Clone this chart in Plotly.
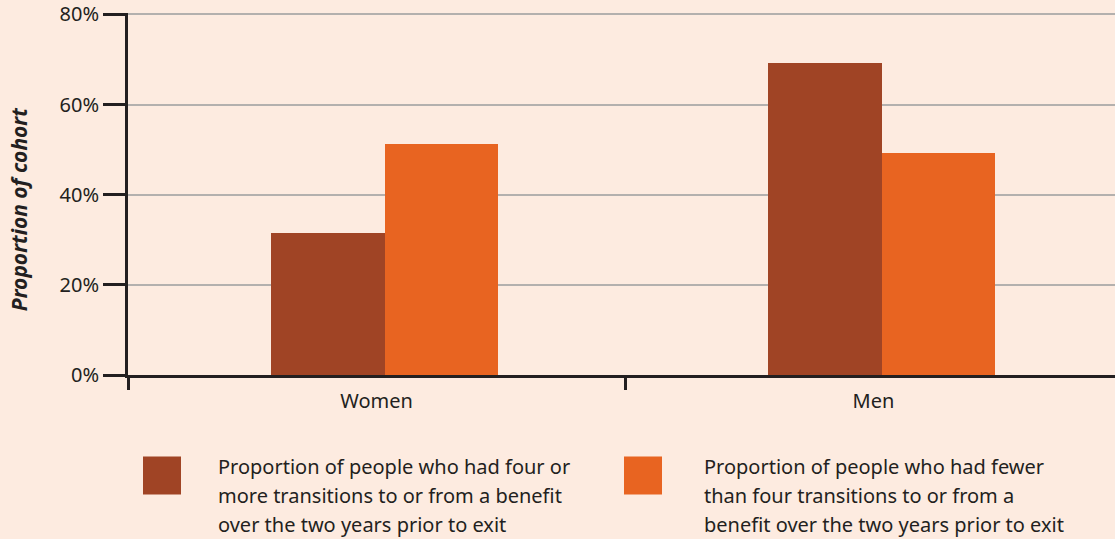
import plotly.graph_objects as go

# data
groups = ["Women", "Men"]
four_or_more = [31.4, 69.3]
fewer_than_four = [51.3, 49.3]
series_names = [
    ["Proportion of people who had four or",
     "more transitions to or from a benefit",
     "over the two years prior to exit"],
    ["Proportion of people who had fewer",
     "than four transitions to or from a",
     "benefit over the two years prior to exit"],
]
y_ticks = [0, 20, 40, 60, 80]
y_labels = ["0%", "20%", "40%", "60%", "80%"]

bg = "#FDEBE0"
ink = "#231F20"
dark = "#A04425"
orange = "#E86421"
font = "Noto Sans"

W, H = 1115, 539
Y_TOP = 80.3                     # a bit above 80 so the top gridline shows
B = 375.5
T = B - Y_TOP * (361 / 80)
L, R = 128, 1115


def px_x(x):
    return (x - L) / (R - L)


def px_y(y):
    return (B - y) / (B - T)


fig = go.Figure()

fig.add_trace(go.Bar(
    x=groups, y=four_or_more,
    marker=dict(color=dark, line=dict(width=0)),
    width=0.2294, offset=-0.2123,
    showlegend=False, hoverinfo="y"
))

fig.add_trace(go.Bar(
    x=groups, y=fewer_than_four,
    marker=dict(color=orange, line=dict(width=0)),
    width=0.227, offset=0.0171,
    showlegend=False, hoverinfo="y"
))

# custom legend, drawn below the plot
shapes = []
annotations = []
for sq_x, txt_x, color, lines in [(143, 217, dark, series_names[0]),
                                  (624, 703, orange, series_names[1])]:
    shapes.append(dict(
        type="rect", xref="paper", yref="paper",
        x0=px_x(sq_x), x1=px_x(sq_x + 38),
        y0=px_y(495), y1=px_y(457),
        fillcolor=color, line=dict(width=0)
    ))
    for i, line in enumerate(lines):
        annotations.append(dict(
            text=line, xref="paper", yref="paper",
            x=px_x(txt_x), y=px_y(467 + i * 29),
            xanchor="left", yanchor="middle",
            showarrow=False, align="left", borderpad=0,
            font=dict(family=font, size=20, color=ink)
        ))

# y axis title, placed by hand like the reference
annotations.append(dict(
    text="<b><i>Proportion of cohort</i></b>",
    xref="paper", yref="paper",
    x=px_x(18.5), y=px_y(210),
    xanchor="center", yanchor="middle",
    textangle=-90, showarrow=False,
    font=dict(family=font, size=21, color=ink)
))

fig.update_layout(
    width=W, height=H,
    paper_bgcolor=bg, plot_bgcolor=bg,
    margin=dict(l=L, r=W - R, t=T, b=H - B, pad=0),
    font=dict(family=font, size=20, color=ink),
    bargap=0, barmode="group",
    shapes=shapes,
    annotations=annotations,
    xaxis=dict(
        range=[-0.5, 1.5 - (2 * 497 - (R - L)) / 497],
        showline=True, linecolor=ink, linewidth=3,
        ticks="outside", tickson="boundaries",
        ticklen=12, tickwidth=3, tickcolor=ink,
        showgrid=False, zeroline=False,
        ticklabelstandoff=6,
        tickfont=dict(family=font, size=20, color=ink),
    ),
    yaxis=dict(
        range=[0, Y_TOP],
        tickvals=y_ticks, ticktext=y_labels,
        showline=True, linecolor=ink, linewidth=3,
        ticks="outside", ticklen=22, tickwidth=3, tickcolor=ink,
        showgrid=True, gridcolor="#B3B0AE", gridwidth=1.5,
        zeroline=False,
        tickfont=dict(family=font, size=20, color=ink),
    ),
)

fig.write_html(
    "out.html",
    config={"displayModeBar": False},
    post_script="document.body.style.margin='0';"
)
